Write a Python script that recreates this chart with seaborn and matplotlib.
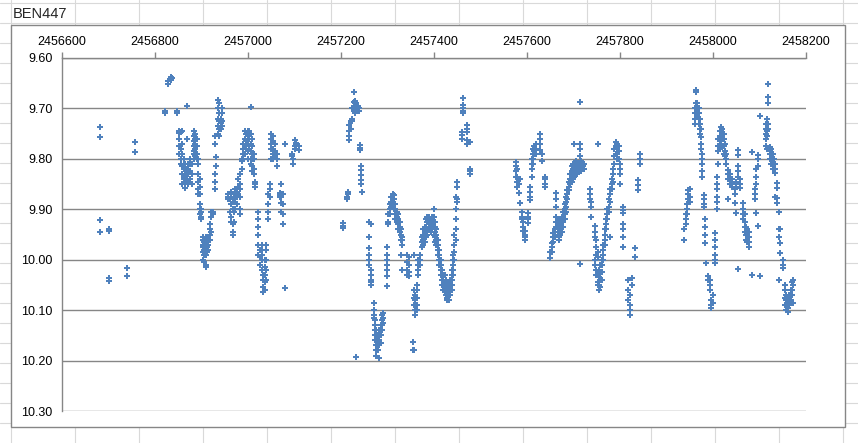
import pandas as pd
import seaborn as sns
import matplotlib.pyplot as plt
from matplotlib.patches import Rectangle
from matplotlib.ticker import FormatStrFormatter

# observations grouped by night: (JD - 2450000, [magnitudes])
JD0 = 2450000
season1 = [
    (6682, [9.737, 9.757, 9.921, 9.945]),
    (6702, [9.940, 9.944, 10.037, 10.042]),
    (6740, [10.016, 10.032]),
    (6758, [9.767, 9.787]),
]
season2 = [
    (6821, [9.706, 9.710]), (6829, [9.652, 9.645]), (6834, [9.641, 9.638, 9.643]),
    (6837, [9.640]), (6847, [9.706, 9.710]),
    (6852, [9.745, 9.748, 9.76, 9.775, 9.79]), (6855, [9.746, 9.78, 9.80, 9.81, 9.80]),
    (6858, [9.745, 9.77, 9.79, 9.815, 9.83, 9.85]), (6862, [9.80, 9.81, 9.82, 9.835, 9.84]),
    (6865, [9.81, 9.82, 9.83, 9.845, 9.858]), (6868, [9.695, 9.76, 9.82, 9.84, 9.83]),
    (6872, [9.81, 9.82, 9.83, 9.845, 9.85]), (6875, [9.80, 9.81, 9.825, 9.84]),
    (6879, [9.81, 9.83, 9.85]),
    (6884, [9.745, 9.755, 9.765, 9.775, 9.785, 9.79, 9.80]),
    (6887, [9.75, 9.76, 9.77, 9.78, 9.79, 9.795]), (6890, [9.76, 9.775, 9.79, 9.80]),
    (6893, [9.80, 9.81, 9.83, 9.845, 9.86, 9.87]), (6896, [9.84, 9.855, 9.87, 9.89, 9.90, 9.91]),
    (6899, [9.90, 9.905, 9.915, 9.92]),
    (6903, [9.955, 9.96, 9.97, 9.975, 9.985, 10.0]),
    (6906, [9.96, 9.965, 9.97, 9.98, 9.99, 10.005]),
    (6909, [9.955, 9.965, 9.975, 9.99, 10.01, 10.015]),
    (6912, [9.96, 9.965, 9.97, 9.975, 9.985]), (6915, [9.955, 9.965, 9.97, 9.98]),
    (6918, [9.93, 9.94, 9.95, 9.96]), (6921, [9.905, 9.915, 9.945]), (6924, [9.905, 9.91]),
    (6929, [9.755, 9.77, 9.83, 9.845, 9.86]), (6932, [9.796, 9.815]),
    (6935, [9.683, 9.70, 9.72, 9.735, 9.75]), (6938, [9.69, 9.71, 9.725, 9.74, 9.755]),
    (6941, [9.72, 9.728, 9.735, 9.74]), (6944, [9.70, 9.71, 9.725, 9.735]),
    (6958, [9.87, 9.875, 9.88]), (6961, [9.88, 9.905]),
    (6964, [9.865, 9.875, 9.89, 9.915, 9.925]), (6967, [9.88, 9.90, 9.93, 9.945, 9.95]),
    (6970, [9.87, 9.885, 9.905, 9.925]), (6973, [9.86, 9.87, 9.88, 9.90]),
    (6976, [9.865, 9.875, 9.89]), (6979, [9.84, 9.855, 9.87]),
    (6983, [9.83, 9.85, 9.86, 9.875, 9.90, 9.91]), (6987, [9.80, 9.805, 9.82]),
    (6990, [9.77, 9.78, 9.79, 9.80]), (6993, [9.745, 9.76, 9.775, 9.79]),
    (6996, [9.75, 9.765, 9.78]), (7000, [9.745, 9.755, 9.77, 9.785, 9.80]),
    (7003, [9.745, 9.76, 9.775, 9.78]), (7006, [9.697, 9.75, 9.77, 9.785, 9.80, 9.81]),
    (7009, [9.76, 9.775, 9.79, 9.80, 9.815, 9.825]), (7012, [9.79, 9.80, 9.82, 9.83]),
    (7016, [9.845, 9.85, 9.855]), (7021, [9.905, 9.92, 9.935, 9.95, 9.97, 9.99]),
    (7026, [9.98, 9.995, 10.01]), (7030, [9.97, 9.98, 9.99, 10.0, 10.02]),
    (7033, [10.03, 10.04, 10.055, 10.065]), (7036, [10.0, 10.015, 10.03, 10.045, 10.06]),
    (7039, [9.97, 9.98, 10.0, 10.02, 10.04]), (7044, [9.87, 9.89, 9.905, 9.92]),
    (7047, [9.85, 9.86, 9.875]), (7050, [9.75, 9.76, 9.77, 9.78, 9.80]),
    (7054, [9.755, 9.765, 9.78, 9.79, 9.80]), (7058, [9.77, 9.785, 9.795]),
    (7062, [9.79, 9.80, 9.815]), (7069, [9.868, 9.872, 9.875, 9.876]),
    (7072, [9.85, 9.87, 9.874, 9.875, 9.888, 9.905]), (7076, [9.87, 9.89, 9.91, 9.93]),
    (7080, [9.77, 10.056]), (7094, [9.79, 9.795]), (7097, [9.80, 9.81]),
    (7101, [9.763, 9.775, 9.78]), (7104, [9.768, 9.773]), (7110, [9.775, 9.783]),
]
season3 = [
    (7205, [9.928, 9.933, 9.938]), (7212, [9.875, 9.88]), (7215, [9.865, 9.87]),
    (7218, [9.733, 9.745, 9.755, 9.763]), (7221, [9.725, 9.74]), (7224, [9.70, 9.72, 9.725]),
    (7227, [9.667, 9.688, 9.695, 9.70, 9.705]), (7230, [9.685, 9.69, 9.695, 9.70, 9.705, 9.71]),
    (7233, [9.69, 9.695, 9.70, 9.705, 10.193]), (7236, [9.695, 9.70, 9.705]),
    (7239, [9.70, 9.705]), (7241, [9.773, 9.778, 9.783]),
    (7244, [9.815, 9.822, 9.832, 9.842, 9.85]), (7246, [9.865]),
    (7261, [9.925, 9.955, 9.977, 9.99, 10.0, 10.01]),
    (7264, [9.93, 10.02, 10.03, 10.04, 10.045, 10.05]),
    (7270, [10.086, 10.10, 10.11, 10.115]), (7273, [10.12, 10.13, 10.14, 10.15, 10.16]),
    (7276, [10.14, 10.15, 10.16, 10.17, 10.18, 10.19]), (7279, [10.15, 10.16, 10.17, 10.18]),
    (7282, [10.14, 10.15, 10.16, 10.17, 10.195]), (7285, [10.13, 10.14, 10.15, 10.165]),
    (7288, [10.11, 10.12, 10.13, 10.14]), (7291, [10.105, 10.115, 10.125]),
    (7298, [9.975, 9.99, 10.0, 10.01, 10.02, 10.033, 10.053]),
    (7302, [9.91, 9.925, 9.93]), (7305, [9.89, 9.90, 9.91]), (7308, [9.875, 9.885, 9.895]),
    (7311, [9.87, 9.88, 9.89]), (7314, [9.872, 9.88, 9.89, 9.90]),
    (7317, [9.89, 9.90, 9.91, 9.92]), (7320, [9.905, 9.915, 9.925]),
    (7323, [9.91, 9.92, 9.93, 9.94]), (7326, [9.925, 9.935, 9.945]),
    (7329, [9.94, 9.95, 9.96, 9.99]), (7332, [9.955, 9.96, 9.97, 10.02]),
    (7343, [9.99, 10.005, 10.02, 10.03]), (7346, [9.995, 10.01, 10.025, 10.033]),
    (7354, [10.164, 10.18]), (7357, [10.06, 10.075, 10.09, 10.18, 9.99]),
    (7360, [10.07, 10.08, 10.09, 10.10, 10.11]), (7363, [10.05, 10.06, 10.075, 10.09, 10.10]),
    (7366, [10.0, 10.01, 10.02, 10.03]), (7370, [9.99, 10.0, 10.01]),
    (7374, [9.955, 9.965, 9.975]), (7377, [9.94, 9.95, 9.96, 9.97]),
    (7380, [9.935, 9.945, 9.955, 9.965]), (7383, [9.92, 9.935, 9.945, 9.955]),
    (7386, [9.915, 9.925, 9.94, 9.95]), (7390, [9.915, 9.92, 9.93, 9.94]),
    (7393, [9.92, 9.925, 9.93, 9.935, 9.945]), (7396, [9.915, 9.92, 9.93, 9.94]),
    (7399, [9.90, 9.915, 9.925, 9.935, 9.95]), (7402, [9.925, 9.935, 9.945, 9.955, 9.965]),
    (7405, [9.94, 9.95, 9.96, 9.97]), (7408, [9.96, 9.97, 9.98, 9.99]),
    (7411, [9.98, 9.99, 10.0, 10.01]), (7414, [10.0, 10.01, 10.02, 10.03]),
    (7417, [10.02, 10.03, 10.04, 10.05]), (7420, [10.03, 10.04, 10.05, 10.06]),
    (7423, [10.03, 10.045, 10.055, 10.065]), (7426, [10.04, 10.05, 10.06, 10.07]),
    (7429, [10.045, 10.055, 10.065, 10.075, 10.08]), (7432, [10.05, 10.06, 10.07, 10.08]),
    (7435, [10.04, 10.05, 10.06, 10.07]), (7438, [10.02, 10.03, 10.04, 10.05, 10.06]),
    (7441, [9.99, 10.0, 10.01, 10.02, 10.03]), (7444, [9.95, 9.97, 9.985, 10.0]),
    (7447, [9.875, 9.90, 9.92, 9.94, 9.96]), (7450, [9.845, 9.855, 9.88, 9.885]),
    (7460, [9.746, 9.753, 9.76]), (7463, [9.68, 9.693, 9.70, 9.705, 9.71]),
    (7471, [9.733, 9.74, 9.746, 9.763, 9.77]), (7477, [9.766, 9.82, 9.825, 9.83]),
]
season4 = [
    (7576, [9.806, 9.815, 9.825, 9.835]), (7579, [9.82, 9.835, 9.845, 9.855]),
    (7582, [9.84, 9.85, 9.868]), (7586, [9.84, 9.888]), (7589, [9.905, 9.915, 9.92]),
    (7592, [9.925, 9.935, 9.944]), (7596, [9.944, 9.95, 9.955, 9.96]),
    (7603, [9.908, 9.915, 9.92, 9.928]), (7607, [9.855, 9.865, 9.875, 9.882]),
    (7610, [9.80, 9.81, 9.82, 9.835]), (7613, [9.78, 9.79, 9.80, 9.81]),
    (7616, [9.775, 9.785, 9.79]), (7620, [9.77, 9.78, 9.79]),
    (7628, [9.75, 9.76, 9.77, 9.783]), (7632, [9.79, 9.805]),
    (7639, [9.835, 9.84, 9.85, 9.855]), (7650, [9.985, 9.997]),
    (7653, [9.967, 9.975, 9.985]), (7656, [9.947, 9.955, 9.965]),
    (7660, [9.94, 9.95, 9.955]), (7663, [9.868, 9.88, 9.895, 9.915, 9.925, 9.935]),
    (7666, [9.92, 9.93, 9.94, 9.95]), (7669, [9.925, 9.935, 9.945, 9.955, 9.96]),
    (7672, [9.92, 9.93, 9.94, 9.95]), (7675, [9.915, 9.925, 9.935, 9.945]),
    (7678, [9.905, 9.915, 9.925, 9.935]), (7681, [9.89, 9.90, 9.91, 9.92]),
    (7684, [9.875, 9.885, 9.895, 9.905]), (7687, [9.862, 9.87, 9.88]),
    (7690, [9.845, 9.855, 9.862]), (7693, [9.83, 9.84, 9.85]),
    (7696, [9.815, 9.825, 9.835, 9.845]), (7699, [9.81, 9.82, 9.83, 9.84]),
    (7700, [9.77]), (7702, [9.81, 9.815, 9.825, 9.835]),
    (7705, [9.805, 9.815, 9.82, 9.83]), (7708, [9.81, 9.82, 9.83]),
    (7711, [9.81, 9.815, 9.825]), (7714, [9.688, 9.77, 9.78, 9.795, 9.81, 9.82, 10.008]),
    (7717, [9.805, 9.815, 9.825]), (7720, [9.81, 9.815]), (7723, [9.81, 9.82]),
    (7735, [9.86, 9.87, 9.88]), (7738, [9.885, 9.895, 9.915]),
    (7746, [9.934, 9.945, 9.955, 10.0, 10.01]), (7749, [9.96, 9.975, 9.99, 10.02, 10.03]),
    (7752, [9.77, 9.985, 9.994, 10.03, 10.045, 10.05]), (7755, [10.02, 10.035, 10.05, 10.06]),
    (7758, [10.01, 10.025, 10.04, 10.055]), (7761, [10.0, 10.01, 10.025, 10.04]),
    (7764, [9.97, 9.98, 9.99, 10.0]), (7767, [9.94, 9.95, 9.96, 9.97]),
    (7770, [9.92, 9.93, 9.94]), (7773, [9.90, 9.91, 9.92]), (7776, [9.88, 9.895, 9.905]),
    (7779, [9.86, 9.87, 9.885, 9.954]), (7782, [9.84, 9.85, 9.86]),
    (7785, [9.82, 9.83, 9.845]), (7788, [9.78, 9.795, 9.81]),
    (7791, [9.766, 9.775, 9.79]), (7794, [9.77, 9.78, 9.79, 9.80]),
    (7797, [9.775, 9.785, 9.80]), (7800, [9.81, 9.82, 9.83, 9.85]),
    (7806, [9.895, 9.902, 9.908, 9.93, 9.94, 9.954, 9.974]),
    (7818, [10.04, 10.06, 10.08]), (7822, [10.07, 10.09, 10.10, 10.11]),
    (7825, [10.036, 10.05]), (7833, [9.977, 9.994]), (7839, [9.842, 9.852, 9.862]),
    (7843, [9.79, 9.80, 9.81]),
]
season5 = [
    (7938, [9.94, 9.96]), (7941, [9.91, 9.92, 9.93]), (7944, [9.89, 9.90, 9.91]),
    (7947, [9.862, 9.87, 9.88]), (7950, [9.86, 9.875, 9.885]),
    (7961, [9.70, 9.71, 9.72, 9.73]), (7963, [9.664, 9.668, 9.69, 9.70]),
    (7966, [9.69, 9.70, 9.705, 9.715]), (7969, [9.70, 9.71, 9.72, 9.73]),
    (7972, [9.72, 9.73, 9.74, 9.75]), (7975, [9.74, 9.756, 9.77, 9.78]),
    (7977, [9.79, 9.80, 9.81, 9.825, 9.835]), (7981, [9.872, 9.88, 9.89, 9.895]),
    (7983, [9.92, 9.935, 9.95, 9.967]), (7986, [10.006]), (7990, [10.033, 10.04]),
    (7993, [10.04, 10.05, 10.06]), (7996, [10.08, 10.09, 10.096]), (7999, [10.07, 10.085]),
    (8004, [9.947, 9.96, 9.975, 9.99, 10.0, 10.007]),
    (8008, [9.835, 9.85, 9.86, 9.875, 9.885, 9.90]),
    (8011, [9.76, 9.775, 9.785, 9.81]), (8014, [9.745, 9.755, 9.765, 9.78]),
    (8017, [9.736, 9.745, 9.755, 9.77]), (8020, [9.74, 9.75, 9.76, 9.775]),
    (8023, [9.75, 9.76, 9.775, 9.79]), (8026, [9.77, 9.785, 9.795]),
    (8029, [9.79, 9.80, 9.81]), (8033, [9.822, 9.83, 9.84, 9.88]),
    (8036, [9.83, 9.84, 9.85]), (8040, [9.84, 9.85, 9.855]),
    (8047, [9.86, 9.87, 9.888]), (8050, [9.845, 9.855, 9.908]),
    (8054, [9.782, 9.792, 9.815, 9.825, 9.835, 10.019]), (8057, [9.84, 9.85, 9.858]),
    (8065, [9.888, 9.90, 9.91, 9.92]), (8068, [9.91, 9.925, 9.935, 9.945]),
    (8071, [9.935, 9.945, 9.95, 9.96]), (8074, [9.94, 9.95, 9.96, 9.965]),
    (8077, [9.945, 9.955, 9.965, 9.974]), (8083, [9.786, 10.03]),
    (8090, [9.86, 9.87, 9.88]), (8093, [9.82, 9.835, 9.85, 9.908]),
    (8096, [9.792, 9.80, 9.815, 9.934]), (8101, [9.715, 10.032]),
    (8113, [9.73, 9.74, 9.75, 9.76, 9.775]), (8116, [9.72, 9.73, 9.745, 9.755, 9.78]),
    (8119, [9.652, 9.678, 9.689, 9.73, 9.74]), (8122, [9.776, 9.785, 9.79, 9.80]),
    (8125, [9.78, 9.79, 9.80, 9.81]), (8128, [9.79, 9.80, 9.81, 9.82]),
    (8131, [9.80, 9.81, 9.82]), (8134, [9.81, 9.82, 9.829, 9.875]),
    (8138, [9.848, 9.858, 9.878, 9.888]), (8142, [9.905, 9.94, 9.955, 10.04]),
    (8145, [9.94, 9.967, 9.986]), (8150, [10.0, 10.01, 10.017]),
    (8155, [10.05, 10.06, 10.075, 10.09]), (8158, [10.07, 10.08, 10.09, 10.10]),
    (8161, [10.075, 10.085, 10.095, 10.103]), (8164, [10.07, 10.08, 10.09]),
    (8167, [10.06, 10.07, 10.08]), (8170, [10.045, 10.06, 10.07]),
    (8173, [10.04, 10.05, 10.085]),
]

x_ticks = [2456600, 2456800, 2457000, 2457200, 2457400, 2457600, 2457800, 2458000, 2458200]
y_ticks = [9.60, 9.70, 9.80, 9.90, 10.00, 10.10, 10.20, 10.30]

rows = []
for season in (season1, season2, season3, season4, season5):
    for night, mags in season:
        for m in mags:
            rows.append((JD0 + night, m))
df = pd.DataFrame(rows, columns=['jd', 'mag'])

sns.set_style('white')
plt.rcParams['font.family'] = ['Liberation Sans', 'DejaVu Sans']

W, H = 858, 443
fig = plt.figure(figsize=(W / 100, H / 100), dpi=100)

# spreadsheet cells behind the chart
bg = fig.add_axes([0, 0, 1, 1])
bg.set_xlim(0, W)
bg.set_ylim(H, 0)
bg.axis('off')
for cx in range(11, W, 64):
    bg.axvline(cx, color='#d9d9d9', lw=0.8)
for cy in range(3, H, 20):
    bg.axhline(cy, color='#d9d9d9', lw=0.8)
bg.add_patch(Rectangle((11, 25), 834, 402, facecolor='white', edgecolor='#868686', lw=1.0, zorder=3))
bg.text(13, 14, 'BEN447', fontsize=10.5, va='center', ha='left', zorder=4)

ax = fig.add_axes([62 / W, (H - 411) / H, 744 / W, 353 / H])
ax.set_facecolor('none')
sns.scatterplot(data=df, x='jd', y='mag', ax=ax, marker='P', s=16,
                color='#4f81bd', linewidth=0, legend=False, zorder=3)

ax.set_xlim(2456600, 2458200)
ax.set_ylim(10.30, 9.60)
ax.xaxis.tick_top()
ax.set_xticks(x_ticks)
ax.set_xticklabels([str(t) for t in x_ticks])
ax.set_yticks(y_ticks)
ax.yaxis.set_major_formatter(FormatStrFormatter('%.2f'))
ax.set_xlabel('')
ax.set_ylabel('')
ax.yaxis.grid(True, color='#868686', lw=1.0)
ax.xaxis.grid(False)
for side in ('right', 'bottom'):
    ax.spines[side].set_visible(False)
for side in ('top', 'left'):
    ax.spines[side].set_color('#868686')
    ax.spines[side].set_linewidth(1.0)
ax.tick_params(axis='both', colors='#868686', length=4, width=1.0, labelsize=9,
               labelcolor='black', direction='out')
ax.tick_params(axis='x', pad=3)
ax.tick_params(axis='y', pad=3)

fig.savefig('out.png', dpi=100)
